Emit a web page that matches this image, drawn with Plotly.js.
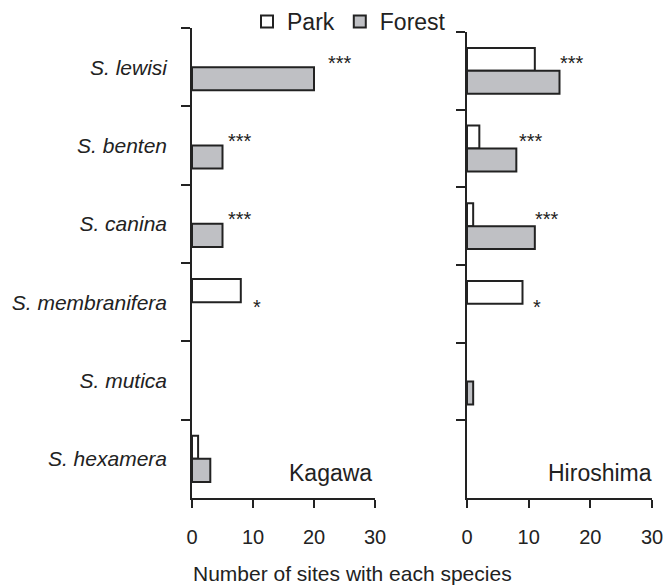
<!DOCTYPE html>
<html>
<head>
<meta charset="utf-8">
<script src="https://cdn.plot.ly/plotly-3.0.1.min.js"></script>
<style>html,body{margin:0;padding:0;background:#fff;}#chart{width:663px;height:587px;}</style>
</head>
<body>
<div id="chart"></div>
<script>
const species = ['S. lewisi', 'S. benten', 'S. canina', 'S. membranifera', 'S. mutica', 'S. hexamera'];
const kagawaPark = [0, 0, 0, 8, 0, 1];
const kagawaForest = [20, 5, 5, 0, 0, 3];
const hiroshimaPark = [11, 2, 1, 9, 0, 0];
const hiroshimaForest = [15, 8, 11, 0, 1, 0];
const kagawaSig = ['***', '***', '***', '*', '', ''];
const hiroshimaSig = ['***', '***', '***', '*', '', ''];
const kagawaSigX = [24.3, 7.9, 7.9, 10.7, 0, 0];
const hiroshimaSigX = [17.0, 10.4, 13.0, 11.3, 0, 0];
const xTicks = [0, 10, 20, 30];
const regions = ['Kagawa', 'Hiroshima'];

const FONT = 'Arial, "Liberation Sans", Helvetica, sans-serif';
const INK = '#222222';
const GRAY = '#bfc0c4';
const lineStyle = {color: INK, width: 2};
// zero counts draw no bar
const noZero = arr => arr.map(v => (v === 0 ? null : v));

const traces = [
  {type: 'bar', orientation: 'h', name: 'Park', y: species, x: noZero(kagawaPark), xaxis: 'x', yaxis: 'y',
   marker: {color: '#ffffff', line: lineStyle}, legendgroup: 'p', showlegend: true},
  {type: 'bar', orientation: 'h', name: 'Forest', y: species, x: noZero(kagawaForest), xaxis: 'x', yaxis: 'y',
   marker: {color: GRAY, line: lineStyle}, legendgroup: 'f', showlegend: true},
  {type: 'bar', orientation: 'h', name: 'Park', y: species, x: noZero(hiroshimaPark), xaxis: 'x2', yaxis: 'y2',
   marker: {color: '#ffffff', line: lineStyle}, legendgroup: 'p', showlegend: false},
  {type: 'bar', orientation: 'h', name: 'Forest', y: species, x: noZero(hiroshimaForest), xaxis: 'x2', yaxis: 'y2',
   marker: {color: GRAY, line: lineStyle}, legendgroup: 'f', showlegend: false}
];

const xBase = {
  range: [0, 30], tickvals: xTicks, ticktext: xTicks.map(String), ticks: 'outside', ticklen: 8, tickwidth: 1.8,
  tickcolor: INK, showline: true, linecolor: INK, linewidth: 1.8, showgrid: false, zeroline: false,
  tickfont: {family: FONT, size: 20, color: INK}, ticklabelstandoff: 12, ticklabeloverflow: 'allow',
  fixedrange: true
};
const yBase = {
  type: 'category', categoryorder: 'array', categoryarray: species, range: [5.5, -0.5],
  tickson: 'boundaries', ticks: 'outside', ticklen: 9, tickwidth: 1.8, tickcolor: INK,
  showline: true, linecolor: INK, linewidth: 1.8, showgrid: false, zeroline: false, fixedrange: true
};

const annotations = [];
function addSig(sig, sx, xref) {
  sig.forEach((s, i) => {
    if (!s) return;
    annotations.push({text: s, x: sx[i], y: species[i], xref: xref, yref: 'y', showarrow: false,
      xanchor: 'center', yanchor: 'middle', yshift: s === '*' ? -5 : 4.5,
      font: {family: FONT, size: 20, color: INK}});
  });
}
addSig(kagawaSig, kagawaSigX, 'x');
addSig(hiroshimaSig, hiroshimaSigX, 'x2');
annotations.push({text: regions[0], x: 30, xref: 'x', xanchor: 'right', xshift: -1,
  y: (587 - 473) / 587, yref: 'paper', yanchor: 'middle', showarrow: false,
  font: {family: FONT, size: 23, color: INK}});
annotations.push({text: regions[1], x: 30, xref: 'x2', xanchor: 'right', xshift: 2,
  y: (587 - 473) / 587, yref: 'paper', yanchor: 'middle', showarrow: false,
  font: {family: FONT, size: 23, color: INK}});
annotations.push({text: 'Number of sites with each species', x: 352 / 663, xref: 'paper', xanchor: 'center',
  y: (587 - 573) / 587, yref: 'paper', yanchor: 'middle', showarrow: false,
  font: {family: FONT, size: 21, color: INK}});

const layout = {
  width: 663, height: 587, margin: {l: 0, r: 0, t: 0, b: 0},
  paper_bgcolor: '#ffffff', plot_bgcolor: '#ffffff',
  barmode: 'group', bargap: 0.41, bargroupgap: 0,
  font: {family: FONT, color: INK},
  showlegend: true,
  legend: {orientation: 'h', x: 247 / 663, xanchor: 'left', y: 1, yanchor: 'top',
    font: {family: FONT, size: 23, color: INK}, bgcolor: 'rgba(0,0,0,0)', traceorder: 'normal'},
  xaxis: Object.assign({}, xBase, {domain: [192 / 663, 375 / 663], anchor: 'y'}),
  xaxis2: Object.assign({}, xBase, {domain: [467 / 663, 652 / 663], anchor: 'y2'}),
  yaxis: Object.assign({}, yBase, {domain: [(587 - 498) / 587, (587 - 28) / 587], anchor: 'x',
    showticklabels: true, ticklabelstandoff: 19,
    tickfont: {family: FONT, size: 21, color: INK, style: 'italic'}}),
  yaxis2: Object.assign({}, yBase, {domain: [(587 - 498) / 587, (587 - 32) / 587], anchor: 'x2',
    showticklabels: false}),
  annotations: annotations
};

Plotly.newPlot('chart', traces, layout, {displayModeBar: false, staticPlot: true});
</script>
</body>
</html>
